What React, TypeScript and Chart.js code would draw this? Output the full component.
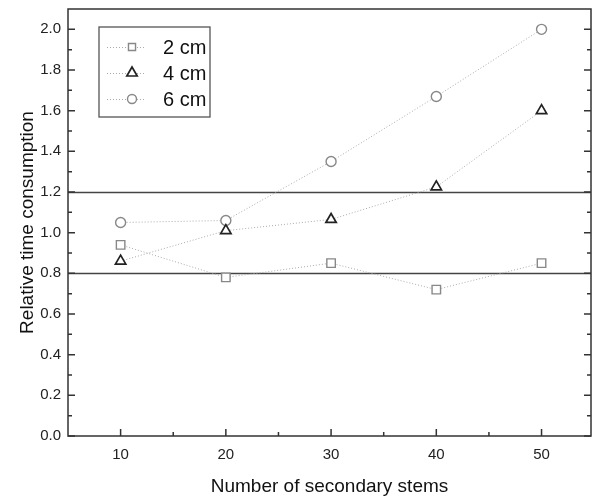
import React, { useEffect, useRef } from "react";
import { Chart, registerables } from "chart.js";

Chart.register(...registerables);

const stems = [10, 20, 30, 40, 50];
const cm2 = [0.94, 0.78, 0.85, 0.72, 0.85];
const cm4 = [0.86, 1.01, 1.065, 1.225, 1.6];
const cm6 = [1.05, 1.06, 1.35, 1.67, 2.0];
const seriesLabels = ["2 cm", "4 cm", "6 cm"];
const xTicks = [10, 20, 30, 40, 50];
const yTicks = [0.0, 0.2, 0.4, 0.6, 0.8, 1.0, 1.2, 1.4, 1.6, 1.8, 2.0];
const refLines = [0.8, 1.2];

const FONT = "Arial, 'Liberation Sans', sans-serif";

const toPts = (vals: number[]) => vals.map((v, i) => ({ x: stems[i], y: v }));

function drawMarker(ctx: CanvasRenderingContext2D, style: string, x: number, y: number, r: number) {
  ctx.beginPath();
  if (style === "rect") {
    const s = Math.SQRT1_2 * r;
    ctx.rect(x - s, y - s, 2 * s, 2 * s);
  } else if (style === "triangle") {
    ctx.moveTo(x, y - r);
    ctx.lineTo(x + r * Math.sin(Math.PI / 3), y + r / 2);
    ctx.lineTo(x - r * Math.sin(Math.PI / 3), y + r / 2);
    ctx.closePath();
  } else {
    ctx.arc(x, y, r, 0, Math.PI * 2);
  }
  ctx.fill();
  ctx.stroke();
}

const legendRadius: Record<string, number> = { rect: 5, triangle: 6, circle: 4.5 };

const framePlugin = {
  id: "frame",
  beforeDatasetsDraw(chart: any) {
    const { ctx, chartArea: a, scales } = chart;
    const y = scales.y;
    ctx.save();
    ctx.strokeStyle = "#444";
    ctx.lineWidth = 1.3;
    refLines.forEach((v) => {
      const py = Math.round(y.getPixelForValue(v)) + 0.5;
      ctx.beginPath();
      ctx.moveTo(a.left, py);
      ctx.lineTo(a.right, py);
      ctx.stroke();
    });
    ctx.restore();
  },
  afterDraw(chart: any) {
    const { ctx, chartArea: a, scales } = chart;
    const x = scales.x;
    const y = scales.y;
    ctx.save();
    ctx.strokeStyle = "#333";
    ctx.lineWidth = 1.5;
    ctx.strokeRect(a.left, a.top, a.right - a.left, a.bottom - a.top);
    const major = 7;
    const minor = 4;
    ctx.beginPath();
    yTicks.forEach((v, i) => {
      const py = y.getPixelForValue(v);
      ctx.moveTo(a.left, py);
      ctx.lineTo(a.left + major, py);
      ctx.moveTo(a.right, py);
      ctx.lineTo(a.right - major, py);
      if (i < yTicks.length - 1) {
        const pm = y.getPixelForValue((v + yTicks[i + 1]) / 2);
        ctx.moveTo(a.left, pm);
        ctx.lineTo(a.left + minor, pm);
        ctx.moveTo(a.right, pm);
        ctx.lineTo(a.right - minor, pm);
      }
    });
    xTicks.forEach((v, i) => {
      const px = x.getPixelForValue(v);
      ctx.moveTo(px, a.bottom);
      ctx.lineTo(px, a.bottom - major);
      if (i < xTicks.length - 1) {
        const pm = x.getPixelForValue((v + xTicks[i + 1]) / 2);
        ctx.moveTo(pm, a.bottom);
        ctx.lineTo(pm, a.bottom - minor);
      }
    });
    ctx.stroke();

    // legend
    const bx = 99, by = 27, bw = 111, bh = 90;
    ctx.strokeStyle = "#555";
    ctx.lineWidth = 1.3;
    ctx.strokeRect(bx, by, bw, bh);
    const rowY = [47, 73, 99];
    chart.data.datasets.forEach((ds: any, i: number) => {
      const cy = rowY[i];
      ctx.save();
      ctx.strokeStyle = ds.borderColor;
      ctx.lineWidth = 1;
      ctx.setLineDash([1, 2]);
      ctx.beginPath();
      ctx.moveTo(107, cy + 0.5);
      ctx.lineTo(144, cy + 0.5);
      ctx.stroke();
      ctx.restore();
      ctx.save();
      ctx.fillStyle = "#fff";
      ctx.strokeStyle = ds.pointBorderColor;
      ctx.lineWidth = ds.pointBorderWidth;
      drawMarker(ctx, ds.pointStyle, 132, cy, legendRadius[ds.pointStyle] || 5);
      ctx.restore();
      ctx.fillStyle = "#111";
      ctx.font = `20px ${FONT}`;
      ctx.textAlign = "left";
      ctx.textBaseline = "middle";
      ctx.fillText(ds.label, 163, cy + 1);
    });
    ctx.restore();
  },
};

export default function App() {
  const ref = useRef<HTMLCanvasElement>(null);
  useEffect(() => {
    if (!ref.current) return;
    const mk = (label: string, vals: number[], style: string, color: string, r: number, bw: number) => ({
      label,
      data: toPts(vals),
      showLine: true,
      borderColor: "#aaa",
      borderWidth: 1,
      borderDash: [1, 2],
      pointStyle: style,
      pointRadius: r,
      pointHoverRadius: r,
      pointBorderColor: color,
      pointBackgroundColor: "#fff",
      pointBorderWidth: bw,
      fill: false,
    });
    const chart = new Chart(ref.current, {
      type: "scatter",
      data: {
        datasets: [
          mk(seriesLabels[0], cm2, "rect", "#888", 6, 1.4),
          mk(seriesLabels[1], cm4, "triangle", "#222", 6, 1.7),
          mk(seriesLabels[2], cm6, "circle", "#888", 5, 1.4),
        ],
      },
      options: {
        animation: false,
        responsive: false,
        devicePixelRatio: 1,
        layout: { autoPadding: false, padding: { top: 9, right: 2, left: 0, bottom: 0 } },
        plugins: { legend: { display: false }, tooltip: { enabled: false } },
        scales: {
          x: {
            type: "linear",
            min: 5,
            max: 54.7,
            afterFit: (s: any) => {
              s.height = 61;
              s.paddingLeft = 0;
              s.paddingRight = 0;
            },
            afterBuildTicks: (s: any) => {
              s.ticks = xTicks.map((v) => ({ value: v }));
            },
            grid: { display: false, drawTicks: false },
            border: { display: false },
            ticks: { color: "#222", font: { family: FONT, size: 15 }, padding: 10, maxRotation: 0 },
            title: {
              display: true,
              text: "Number of secondary stems",
              color: "#111",
              font: { family: FONT, size: 19 },
              padding: { top: 0, bottom: -1 },
            },
          },
          y: {
            type: "linear",
            min: 0,
            max: 2.1,
            afterFit: (s: any) => {
              s.width = 68;
              s.paddingTop = 0;
              s.paddingBottom = 0;
            },
            afterBuildTicks: (s: any) => {
              s.ticks = yTicks.map((v) => ({ value: v }));
            },
            grid: { display: false, drawTicks: false },
            border: { display: false },
            ticks: {
              color: "#222",
              font: { family: FONT, size: 15 },
              padding: 7,
              callback: (v: any) => Number(v).toFixed(1),
            },
            title: {
              display: true,
              text: "Relative time consumption",
              color: "#111",
              font: { family: FONT, size: 19 },
              padding: { top: 16, bottom: 0 },
            },
          },
        },
      },
      plugins: [framePlugin],
    } as any);
    return () => chart.destroy();
  }, []);
  return (
    <div style={{ position: "fixed", left: 0, top: 0, width: 593, height: 497, background: "#fff" }}>
      <canvas ref={ref} width={593} height={497} style={{ width: 593, height: 497 }} />
    </div>
  );
}
